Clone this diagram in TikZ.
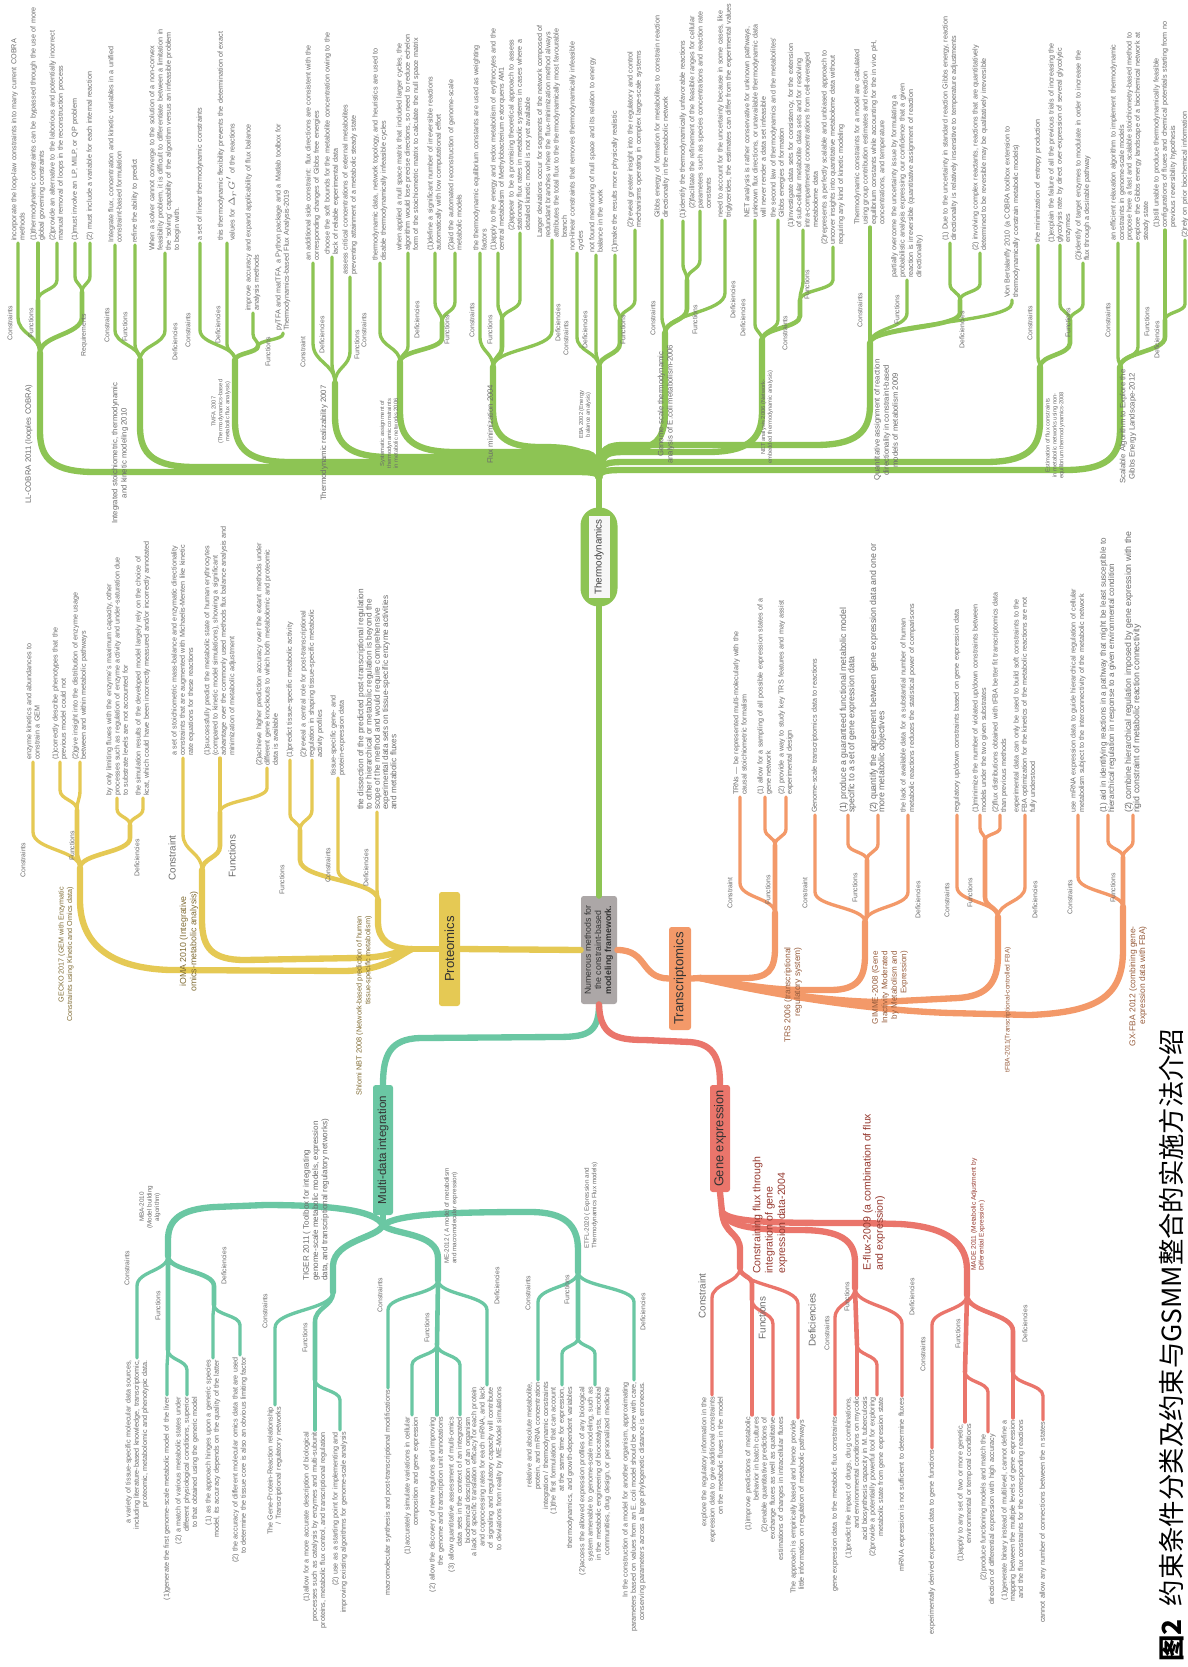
\documentclass[tikz,border=0pt]{standalone}
\usepackage{fontspec}
\setmainfont{Liberation Sans}
\newfontfamily\cjkfont{Noto Sans CJK SC}
\usepackage{tikz}
\usetikzlibrary{positioning,calc}
\hyphenpenalty=10000
\exhyphenpenalty=10000
\tolerance=10000
\definecolor{thgreen}{RGB}{141,196,84}
\definecolor{pryellow}{RGB}{229,201,84}
\definecolor{trorange}{RGB}{243,153,105}
\definecolor{mdteal}{RGB}{106,199,163}
\definecolor{gered}{RGB}{234,117,107}
\definecolor{coregray}{RGB}{172,167,167}
\definecolor{leafgray}{RGB}{108,108,108}
\definecolor{prtext}{RGB}{128,108,52}
\definecolor{trtext}{RGB}{152,94,62}
\definecolor{getext}{RGB}{150,58,48}
\tikzset{
  bup/.style={to path={.. controls ($(\tikztostart)+(0,-#1)$) and ($(\tikztostart -| \tikztotarget)+(0,-#1)$)
      .. ($(\tikztostart -| \tikztotarget)+(0,-2*#1)$) -- (\tikztotarget)}},
  bdn/.style={to path={.. controls ($(\tikztostart)+(0,#1)$) and ($(\tikztostart -| \tikztotarget)+(0,#1)$)
      .. ($(\tikztostart -| \tikztotarget)+(0,2*#1)$) -- (\tikztotarget)}},
  trunk/.style={line width=3.6pt, line cap=round},
  limb/.style={line width=2.6pt, line cap=round},
  twig/.style={line width=1.9pt, line cap=round},
  catbox/.style={inner sep=0pt, rounded corners=1.5pt, text=black!80},
  uleaf/.style={rotate=90, anchor=west, align=left, inner sep=1pt,
                font=\fontsize{4.1}{4.7}\selectfont, text=leafgray},
  dleaf/.style={uleaf, anchor=east, align=right},
  cat/.style={rotate=90, inner sep=0.5pt, font=\fontsize{3.9}{4.4}\selectfont, text=leafgray},
  bigcat/.style={cat, font=\fontsize{5.6}{6}\selectfont},
  meth/.style={rotate=90, inner sep=0.5pt, font=\fontsize{4.4}{5.2}\selectfont, text=leafgray},
  tinymeth/.style={meth, font=\fontsize{3.3}{3.9}\selectfont},
}

\begin{document}
\begin{tikzpicture}[x=0.02cm, y=-0.02cm]
\useasboundingbox (0,0) rectangle (1187,1667);
\fill[white] (0,0) rectangle (1187,1667);

% centre node and the five groups
\node[catbox, fill=coregray, minimum width=0.72cm, minimum height=2.16cm,
      font=\fontsize{5}{5.8}\selectfont] (core) at (599,950)
  {\rotatebox{90}{\begin{tabular}{@{}c@{}}Numerous methods for\\the constraint-based\\\textbf{modeling framework.}\end{tabular}}};
\node[fill=thgreen, rounded corners=0.36cm, minimum width=0.74cm, minimum height=1.98cm,
      inner sep=0pt] (thermo) at (599,557) {};
\node[fill=gray!6, minimum width=0.42cm, minimum height=1.64cm, inner sep=0pt,
      font=\fontsize{5.6}{6}\selectfont, text=black!75] (thermot) at (thermo.center)
  {\rotatebox{90}{Thermodynamics}};
\node[catbox, fill=pryellow, minimum width=0.42cm, minimum height=2.28cm,
      font=\fontsize{7.5}{8}\selectfont] (prot) at (449.5,949) {\rotatebox{90}{Proteomics}};
\node[catbox, fill=trorange, minimum width=0.44cm, minimum height=2.06cm,
      font=\fontsize{7.5}{8}\selectfont] (trans) at (680,978.5) {\rotatebox{90}{Transcriptomics}};
\node[catbox, fill=mdteal, minimum width=0.40cm, minimum height=2.6cm,
      font=\fontsize{6.6}{7}\selectfont] (mdi) at (383,1150) {\rotatebox{90}{Multi-data integration}};
\node[catbox, fill=gered, minimum width=0.40cm, minimum height=2.14cm,
      font=\fontsize{7.3}{8}\selectfont] (gene) at (720,1138.5) {\rotatebox{90}{Gene expression}};

% ---------------- thermodynamics (top) ----------------
\coordinate (ghub) at (599,478);
\foreach \nm/\x/\y in {g1s/40/353, g1b/38/300, g1c/82/292, g2s/140/360, g3s/235/360, g3b/258/346,
    g4s/335/383, g5s/400/362, g5b/442/322, g6s/493/367, g6b/502/320, g7s/599/367, g7b/620/320,
    g8s/665/333, g8b/687/280, g9s/762/340, g9b/800/300, g10s/870/343, g10b/960/300,
    g11s/1040/367, g11b/1070/320, g12s/1120/367, g12b/1165/320}
  \coordinate (\nm) at (\x,\y);

\draw[trunk, thgreen] (core.north) -- (thermo.south);
\draw[trunk, thgreen] (thermo.north) -- (ghub);
\draw[trunk, thgreen] (ghub) .. controls (599,472) and (590,472) .. (570,472) -- (95,472)
  .. controls (55,472) and (40,460) .. (40,432) -- (g1s);
\draw[trunk, thgreen] (ghub) .. controls (599,467) and (590,467) .. (570,467) -- (195,467)
  .. controls (155,467) and (140,455) .. (140,427) -- (g2s);
\draw[trunk, thgreen] (ghub) .. controls (599,462) and (590,462) .. (570,462) -- (290,462)
  .. controls (250,462) and (235,450) .. (235,422) -- (g3s);
\draw[trunk, thgreen] (ghub) .. controls (599,457) and (590,457) .. (570,457) -- (390,457)
  .. controls (350,457) and (335,445) .. (335,417) -- (g4s);
\draw[trunk, thgreen] (ghub) .. controls (599,452) and (590,452) .. (570,452) -- (455,452)
  .. controls (415,452) and (400,440) .. (400,412) -- (g5s);
\draw[trunk, thgreen] (ghub) .. controls (599,447) and (560,447) .. (540,447)
  .. controls (505,447) and (493,435) .. (493,410) -- (g6s);
\draw[trunk, thgreen] (ghub) -- (g7s);
\draw[trunk, thgreen] (ghub) .. controls (599,447) and (620,447) .. (640,447)
  .. controls (658,447) and (665,435) .. (665,410) -- (g8s);
\draw[trunk, thgreen] (ghub) .. controls (599,452) and (608,452) .. (628,452) -- (707,452)
  .. controls (747,452) and (762,440) .. (762,412) -- (g9s);
\draw[trunk, thgreen] (ghub) .. controls (599,445) and (608,445) .. (628,445) -- (815,445)
  .. controls (855,445) and (870,433) .. (870,405) -- (g10s);
\draw[trunk, thgreen] (ghub) .. controls (599,462) and (608,462) .. (628,462) -- (985,462)
  .. controls (1025,462) and (1040,450) .. (1040,422) -- (g11s);
\draw[trunk, thgreen] (ghub) .. controls (599,470) and (608,470) .. (628,470) -- (1065,470)
  .. controls (1105,470) and (1120,458) .. (1120,430) -- (g12s);
\draw[limb, thgreen] (g1s) to[bup=8] (g1b) (g1s) to[bup=18] (g1c) (g3s) to[bup=7] (g3b)
  (g5s) to[bup=12] (g5b) (g6s) to[bup=10] (g6b) (g7s) to[bup=12] (g7b) (g8s) to[bup=12] (g8b)
  (g9s) to[bup=12] (g9b) (g10s) to[bup=15] (g10b) (g11s) to[bup=12] (g11b) (g12s) to[bup=15] (g12b);

\foreach \nm/\pa/\hh/\x/\y/\w/\txt in {
  g1a/g1s/18/18/243/4.45/{incorporate the loop-law constraints into many current COBRA methods},
  g1f1/g1b/10/38/243/4.8/{(1)thermodynamic constraints can be bypassed through the use of more global governing constraints},
  g1f2/g1b/10/57/243/4.6/{(2)provide an alternative to the laborious and potentially incorrect manual removal of loops in the reconstruction process},
  g1r1/g1c/8/75/243/4.6/{(1)must involve an LP, MILP, or QP problem},
  g1r2/g1c/8/90/243/4.6/{(2) must include a variable for each internal reaction},
  g2c/g2s/15/115/245/4.2/{Integrate flux, concentration and kinetic variables in a unified constraint-based formulation},
  g2f/g2s/8/135/245/4.2/{refine the ability to predict},
  g2d/g2s/15/165/253/4.5/{When a solver cannot converge to the solution of a non-convex feasibility problem, it is difficult to differentiate between a limitation in the `solving' capability of the algorithm versus an infeasible problem to begin with.},
  g3c/g3s/15/200/243/4.4/{a set of linear thermodynamic constraints},
  g3d/g3s/8/227/243/4.4/{this thermodynamic flexibility prevents the determination of exact values for $\Delta_rG'$ of the reactions},
  g3f1/g3b/6/253/313/3.9/{improve accuracy and expand applicability of flux balance analysis methods},
  g3f2/g3b/6/283/333/4.6/{pyTFA and matTFA, a Python package and a Matlab toolbox for Thermodynamics-based Flux Analysis-2019},
  g4c/g4s/20/313/263/4.6/{an additional side constraint: flux directions are consistent with the corresponding changes of Gibbs free energies},
  g4d/g4s/10/332/257/4.5/{choose the soft bounds for the metabolite concentration owing to the lack of reliable experimental data},
  g4f/g4s/16/350/277/3.8/{assess critical concentrations of external metabolites preventing attainment of a metabolic steady state},
  g5c/g5s/15/380/263/4.7/{thermodynamic data, network topology, and heuristics are used to disable thermodynamically infeasible cycles},
  g5d/g5s/8/408/253/4.6/{when applied a null space matrix that included larger cycles, the algorithm would lose precise directions, so need to reduce echelon form of the stoichiometric matrix to calculate the null space matrix},
  g5f1/g5b/10/435/253/3.8/{(1)define a significant number of irreversible reactions automatically with low computational effort},
  g5f2/g5b/10/455/253/3.9/{(2)aid the automated reconstruction of genome-scale metabolic models},
  g6c/g6s/15/480/253/4.5/{the thermodynamic equilibrium constants are used as weighting factors},
  g6f1/g6b/8/498/253/4.5/{(1)apply to the energy and redox metabolism of erythrocytes and the central metabolism of Methylobacterium extorquens AM1},
  g6f2/g6b/10/520/233/4.2/{(2)appear to be a promising theoretical approach to assess stationary flux rates in metabolic systems in cases where a detailed kinetic model is not yet available},
  g6d/g6s/18/552/240/4.3/{Larger deviations occur for segments of the network composed of redundant branches where the flux-minimization method always attributes the total flux to the thermodynamically most favourable branch},
  g7c/g7s/15/577/253/4.5/{non-linear constraints that removes thermodynamically infeasible cycles},
  g7d/g7s/8/596/255/4.2/{not found mentioning of null space and its relation to energy balance in the work},
  g7f1/g7b/8/615/255/4.2/{(1)make the results more physically realistic},
  g7f2/g7b/10/635/230/3.8/{(2)reveal greater insight into the regulatory and control mechanisms operating in complex large-scale systems},
  g8c/g8s/8/662/220/4.3/{Gibbs energy of formation for metabolites to constrain reaction directionality in the metabolic network},
  g8f1/g8b/8/683/221/4.3/{(1)identify the thermodynamically unfavorable reactions},
  g8f2/g8b/10/700/211/4.0/{(2)facilitate the refinement of the feasible ranges for cellular parameters such as species concentrations and reaction rate constants},
  g8d/g8s/20/725/220/4.3/{need to account for the uncertainty because in some cases, like triglycerides, the estimates can differ from the experimental values},
  g9d/g9s/8/755/220/4.0/{NET analysis is rather conservative for unknown pathways, unknown flux directions, or unavailable thermodynamic data will never render a data set infeasible},
  g9c/g9s/10/778/220/3.8/{the second law of thermodynamics and the metabolites' Gibbs energies of formation},
  g9f1/g9b/10/803/230/4.2/{(1)investigate data sets for consistency, for the extension of sub-cellular metabolite data sets and for resolving intra-compartmental concentrations from cell-averaged metabolome data},
  g9f2/g9b/10/833/247/4.3/{(2)represents a perfectly scalable and unbiased approach to uncover insights into quantitative metabolome data without requiring any kind of kinetic modeling},
  g10c/g10s/5/870/227/3.9/{Thermodynamic constraints for a model are calculated using group contribution estimates and reaction equilibrium constants while accounting for the in vivo pH, concentrations, and temperature},
  g10f/g10s/15/907/280/4.1/{partially overcome the uncertainty issue by formulating a probabilistic analysis expressing our confidence that a given reaction is irreversible (quantitative assignment of reaction directionality)},
  g10d1/g10b/8/950/243/4.5/{(1) Due to the uncertainty in standard reaction Gibbs energy, reaction directionality is relatively insensitive to temperature adjustments},
  g10d2/g10b/8/980/253/4.5/{(2) involving complex reactants, reactions that are quantitatively determined to be reversible may be qualitatively irreversible},
  g10v/g10s/20/1012/300/3.9/{Von Bertalanffy 2010 (a COBRA toolbox extension to thermodynamically constrain metabolic models)},
  g11c/g11s/5/1038/245/4.4/{the minimization of entropy production},
  g11f1/g11b/8/1060/245/4.3/{(1)explain the failure of all the previous trials of increasing the glycolysis rate by direct over-expression of several glycolytic enzymes},
  g11f2/g11b/8/1083/263/4.4/{(2)identify of target enzymes to modulate in order to increase the flux through a desirable pathway},
  g12c/g12s/5/1118/243/4.4/{an efficient relaxation algorithm to implement thermodynamic constraints in genome-scale models},
  g12f/g12s/10/1138/243/4.6/{propose here a fast and scalable stoichiometry-based method to explore the Gibbs energy landscape of a biochemical network at steady state},
  g12d1/g12b/8/1165/230/4.3/{(1)still unable to produce thermodynamically feasible configurations of fluxes and chemical potentials starting from no previous reversibility hypothesis},
  g12d2/g12b/8/1185/240/4.5/{(2)rely on prior biochemical information}}{
  \node[uleaf, text width=\w cm] (\nm) at (\x,\y) {\txt};
  \draw[twig, thgreen] (\pa) to[bup=\hh] (\nm.west);
}

\foreach \x/\y/\txt [count=\i] in {10/323/Constraints, 31/323/Functions, 84/335/Requirements,
    107/325/Constraints, 125/327/Functions, 175/342/Deficiencies,
    188/330/Constraints, 218/325/Deficiencies, 268/352/Functions,
    303/352/Constraint, 322/335/Deficiencies, 357/345/Functions,
    364/330/Constraints, 417/320/Deficiencies, 447/330/Functions,
    472/320/Constraints, 490/330/Functions, 558/323/Deficiencies,
    566/338/Constraints, 585/330/Deficiencies, 623/330/Functions,
    653/318/Constraints, 695/320/Functions, 733/300/Deficiencies,
    743/318/Deficiencies, 785/333/Constraints, 807/285/Functions,
    860/310/Constraints, 897/310/Functions, 962/330/Deficiencies,
    1030/323/Constraints, 1068/323/Functions,
    1108/320/Constraints, 1147/322/Functions, 1157/340/Deficiencies}
  \node[cat] (gl\i) at (\x,\y) {\txt};

\node[meth, anchor=west] (g1m) at (29,505) {LL-COBRA 2011 (looples COBRA)};
\node[meth, anchor=west, align=center] (g2m) at (120,525)
  {Integrated stoichiometric, thermodynamic\\and kinetic modeling 2010};
\node[tinymeth, anchor=west, align=center] (g3m) at (221,445)
  {TMFA 2007\\(Thermodynamics-based\\metabolic flux analysis)};
\node[meth, anchor=west] (g4m) at (324,502) {Thermodynamic realizability 2007};
\node[tinymeth, anchor=west, align=center] (g5m) at (389,470)
  {Systematic assignment of\\thermodynamic constraints\\in metabolic networks 2006};
\node[meth, anchor=west] (g6m) at (490,465) {Flux minimization 2004};
\node[tinymeth, anchor=west, align=center] (g7m) at (585,440) {EBA 2002 (Energy\\balance analysis)};
\node[meth, anchor=west, align=center] (g8m) at (666,465)
  {Genome-scale thermodynamic\\analysis of E.coli metabolism-2006};
\node[tinymeth, anchor=west, align=center] (g9m) at (767,465)
  {NET analysis 2006 (Network-\\embedded thermodynamic analysis)};
\node[meth, anchor=west, align=center] (g10m) at (886,482)
  {Quantitative assignment of reaction\\directionality in constraint-based\\models of metabolism 2009};
\node[tinymeth, anchor=west, align=center] (g11m) at (1055,480)
  {Estimation of flux constraints\\in metabolic networks using non-\\equilibrium thermodynamics-2008};
\node[meth, anchor=west, align=center] (g12m) at (1128,485)
  {Scalable Algorithm to Explore the\\Gibbs Energy Landscape-2012};

% ---------------- proteomics (left) ----------------
\coordinate (yhub) at (412,949);
\foreach \nm/\x/\y in {y1s/80/868, y1b/77/810, y1c/130/825, y2s/202/870, y2b/220/812,
    y3s/378/900, y3b/300/830}
  \coordinate (\nm) at (\x,\y);
\draw[trunk, pryellow] (core.west) -- (prot.east);
\draw[trunk, pryellow] (prot.west) -- (yhub);
\draw[trunk, pryellow] (yhub) .. controls (390,949) and (378,940) .. (378,922) -- (y3s);
\draw[trunk, pryellow] (yhub) .. controls (395,952) and (385,958) .. (355,958) -- (245,960)
  .. controls (212,960) and (202,948) .. (202,920) -- (y2s);
\draw[trunk, pryellow] (yhub) .. controls (398,956) and (385,970) .. (345,971) -- (170,970)
  .. controls (105,968) and (80,940) .. (80,900) -- (y1s);
\draw[limb, pryellow] (y1s) to[bup=8] (y1b) (y1s) to[bup=15] (y1c) (y2s) to[bup=12] (y2b)
  (y3s) to[bup=20] (y3b);

\foreach \nm/\pa/\hh/\x/\y/\w/\txt in {
  y1c1/y1s/18/33/762/2.5/{enzyme kinetics and abundances to constrain a GEM},
  y1f1/y1b/10/60/762/2.8/{(1)correctly describe phenotypes that the previous model could not},
  y1f2/y1b/10/80/762/3.5/{(2)give insight into the distribution of enzyme usage between and within metabolic pathways},
  y1d1/y1c/8/117/798/4.8/{by only limiting fluxes with the enzyme's maximum capacity, other processes such as regulation of enzyme activity and under-saturation due to substrate levels are not accounted for},
  y1d2/y1c/8/143/798/5.1/{the simulation results of the developed model largely rely on the choice of kcat, which could have been incorrectly measured and/or incorrectly annotated},
  y2c/y2s/18/183/758/4.5/{a set of stoichiometric mass-balance and enzymatic directionality constraints that are augmented with Michaelis-Menten like kinetic rate equations for these reactions},
  y2f1/y2b/8/220/758/4.6/{(1)successfully predict the metabolic state of human erythrocytes (compared to kinetic model simulations), showing a significant advantage over the commonly used methods flux balance analysis and minimization of metabolic adjustment},
  y2f2/y2b/12/267/768/4.6/{(2)achieve higher prediction accuracy over the extant methods under different gene knockouts to which both metabolomic and proteomic data is available},
  y3f1/y3b/8/290/760/3.2/{(1)predict tissue-specific metabolic activity},
  y3f2/y3b/10/312/760/3.3/{(2)reveal a central role for post-transcriptional regulation in shaping tissue-specific metabolic activity profiles},
  y3c/y3s/15/338/778/2.4/{tissue-specific gene- and protein-expression data},
  y3d/y3s/5/377/812/4.6/{\fontsize{4.7}{5.7}\selectfont the dissection of the predicted post-transcriptional regulation to other hierarchical or metabolic regulation is beyond the scope of the method and would require comprehensive experimental data sets on tissue-specific enzyme activities and metabolic fluxes}}{
  \node[uleaf, text width=\w cm] (\nm) at (\x,\y) {\txt};
  \draw[twig, pryellow] (\pa) to[bup=\hh] (\nm.west);
}
\foreach \x/\y/\txt [count=\i] in {23/860/Constraints, 72/846/Functions, 137/858/Deficiencies,
    282/880/Functions, 328/865/Constraints, 366/868/Deficiencies}
  \node[cat] (yl\i) at (\x,\y) {\txt};
\node[bigcat] (yl7) at (172,858) {Constraint};
\node[bigcat] (yl8) at (232,856) {Functions};
\node[meth, text=prtext, anchor=east, align=right, font=\fontsize{4.1}{4.8}\selectfont] (y1m) at (66,886)
  {GECKO 2017 (GEM with Enzymatic\\Constraints using Kinetic and Omics data)};
\node[meth, text=prtext, anchor=east, align=center, font=\fontsize{5}{5.8}\selectfont] (y2m) at (189,890)
  {iOMA 2010 (Integrative\\omics-metabolic analysis)};
\node[meth, text=prtext, anchor=east, align=right, font=\fontsize{4.2}{5}\selectfont] (y3m) at (364,915)
  {Shlomi NBT 2008 (Network-based prediction of human\\tissue-specific metabolism)};

% ---------------- transcriptomics (right) ----------------
\coordinate (ohub) at (700,978);
\foreach \nm/\x/\y in {o1s/775/913, o1b/775/845, o2s/865/922, o2b/867/860, o3s/998/917,
    o3b/985/840, o4s/1123/907, o4b/1123/857}
  \coordinate (\nm) at (\x,\y);
\draw[trunk, trorange] (core.east) .. controls (648,950) and (640,978) .. (trans.west);
\draw[trunk, trorange] (trans.east) -- (ohub);
\draw[trunk, trorange] (ohub) -- (745,978) .. controls (768,978) and (775,970) .. (775,948) -- (o1s);
\draw[trunk, trorange] (ohub) .. controls (730,982) and (765,990) .. (805,990) -- (830,990)
  .. controls (858,990) and (865,978) .. (865,955) -- (o2s);
\draw[trunk, trorange] (ohub) .. controls (740,986) and (810,1001) .. (880,1002) -- (958,998)
  .. controls (988,996) and (998,982) .. (998,955) -- (o3s);
\draw[trunk, trorange] (ohub) .. controls (760,992) and (860,1010) .. (950,1013) -- (1030,1015)
  .. controls (1100,1012) and (1123,995) .. (1123,950) -- (o4s);
\draw[limb, trorange] (o1s) -- (o1b) (o2s) to[bup=4] (o2b) (o3s) to[bup=10] (o3b) (o4s) -- (o4b);

\foreach \nm/\pa/\hh/\x/\y/\w/\txt in {
  o1c/o1s/15/740/797/3.6/{TRNs — be represented multi-molecularly with the causal stoichiometric formalism},
  o1f1/o1b/8/765/797/4.1/{(1) allow for a sampling of all possible expression states of a gene network},
  o1f2/o1b/8/786/797/4.2/{(2) provide a way to study key TRS features and may assist experimental design},
  o2c/o2s/15/815/815/3.6/{Genome-scale transcriptomics data to reactions},
  o2f1/o2b/8/848/815/4.5/{\fontsize{5}{5.8}\selectfont (1) produce a guaranteed functional metabolic model specific to a set of gene expression data},
  o2f2/o2b/8/878/815/5.7/{\fontsize{5}{5.8}\selectfont (2) quantify the agreement between gene expression data and one or more metabolic objectives},
  o2d/o2s/15/908/815/4.5/{the lack of available data for a substantial number of human metabolic reactions reduces the statistical power of comparisons},
  o3c/o3s/15/957/815/4.4/{regulatory up/down constraints based on gene expression data},
  o3f1/o3b/6/980/815/4.6/{(1)minimize the number of violated up/down constraints between models under the two given substrates},
  o3f2/o3b/6/1000/815/4.6/{(2)flux distributions obtained with tFBA better fit transcriptomics data than previous methods},
  o3d/o3s/15/1025/815/4.6/{experimental data can only be used to build soft constraints to the FBA optimization for the kinetics of the metabolic reactions are not fully understood},
  o4c/o4s/15/1078/815/4.7/{use mRNA expression data to guide hierarchical regulation of cellular metabolism subject to the interconnectivity of the metabolic network},
  o4f1/o4b/8/1108/815/5.6/{\fontsize{4.6}{5.4}\selectfont (1) aid in identifying reactions in a pathway that might be least susceptible to hierarchical regulation in response to a given environmental condition},
  o4f2/o4b/8/1133/815/6.0/{\fontsize{5}{5.8}\selectfont (2) combine hierarchical regulation imposed by gene expression with the rigid constraint of metabolic reaction connectivity}}{
  \node[uleaf, text width=\w cm] (\nm) at (\x,\y) {\txt};
  \draw[twig, trorange] (\pa) to[bup=\hh] (\nm.west);
}
\foreach \x/\y/\txt [count=\i] in {730/893/Constraint, 768/890/Functions, 805/893/Constraint,
    855/888/Functions, 918/900/Deficiencies, 947/900/Constraints, 970/893/Functions,
    1035/900/Deficiencies, 1070/897/Constraints, 1113/888/Functions}
  \node[cat] (ol\i) at (\x,\y) {\txt};
\node[meth, text=trtext, anchor=east, align=right, font=\fontsize{4.8}{5.6}\selectfont] (o1m) at (793,946)
  {TRS 2006 (transcriptional\\regulatory system)};
\node[meth, text=trtext, anchor=east, align=right, font=\fontsize{4.6}{5.4}\selectfont] (o2m) at (890,950)
  {GIMME-2008 (Gene\\Inactivity Moderated\\by Metabolism and\\Expression)};
\node[meth, text=trtext, anchor=east, font=\fontsize{3.8}{4.4}\selectfont] (o3m) at (1008,946)
  {tFBA-2011(Transcriptional-controlled FBA)};
\node[meth, text=trtext, anchor=east, align=right, font=\fontsize{4.8}{5.6}\selectfont] (o4m) at (1138,925)
  {GX-FBA 2012 (combining gene-\\expression data with FBA)};

% ---------------- multi-data integration (bottom left) ----------------
\coordinate (thub) at (383,1225);
\foreach \nm/\x/\y in {t1s/168/1256, t1b/168/1350, t1c/214/1305, t2s/333/1292, t2b/315/1380,
    t3s/438/1280, t3b/437/1345, t4s/578/1272, t4b/578/1338}
  \coordinate (\nm) at (\x,\y);
\draw[trunk, mdteal] (core.south) .. controls (599,1035) and (585,1037) .. (555,1037) -- (420,1038)
  .. controls (390,1039) and (383,1055) .. (mdi.north);
\draw[trunk, mdteal] (mdi.south) -- (thub);
\draw[trunk, mdteal] (thub) .. controls (375,1210) and (330,1205) .. (265,1205) -- (215,1207)
  .. controls (180,1209) and (168,1220) .. (168,1240) -- (t1s);
\draw[trunk, mdteal] (thub) .. controls (378,1238) and (335,1240) .. (333,1265) -- (t2s);
\draw[trunk, mdteal] (thub) .. controls (392,1235) and (438,1232) .. (438,1258) -- (t3s);
\draw[trunk, mdteal] (thub) .. controls (398,1214) and (450,1212) .. (530,1212)
  .. controls (565,1212) and (578,1225) .. (578,1250) -- (t4s);
\draw[limb, mdteal] (t1s) -- (t1b) (t1s) to[bdn=15] (t1c) (t2s) to[bdn=15] (t2b) (t3s) -- (t3b)
  (t4s) -- (t4b);

\foreach \nm/\pa/\hh/\x/\y/\w/\txt in {
  t1c1/t1s/15/137/1358/4.1/{a variety of tissue-specific molecular data sources, including literature-based knowledge, transcriptomic, proteomic, metabolomic and phenotypic data.},
  t1f1/t1b/8/167/1395/4.3/{(1)generate the first genome-scale metabolic model of the liver},
  t1f2/t1b/10/187/1395/4.3/{(2) a match of various metabolic states under different physiological conditions, superior to that obtained using the generic model},
  t1d1/t1c/5/213/1358/4.2/{(1) as the approach hinges upon a generic species model, its accuracy depends on the quality of the latter},
  t1d2/t1c/10/240/1355/4.2/{(2) the accuracy of different molecular omics data that are used to determine the tissue core is also an obvious limiting factor},
  t2c/t2s/18/275/1405/3.8/{The Gene-Protein-Reaction relationship / Transcriptional regulatory networks},
  t2f1/t2b/5/315/1430/4.4/{(1)allow for a more accurate description of biological processes such as catalysis by enzymes and multi-subunit proteins, metabolic flux control, and transcriptional regulation},
  t2f2/t2b/10/340/1430/4.4/{(2) use as a starting point for implementing and improving existing algorithms for genome-scale analysis},
  t3c/t3s/15/388/1388/4.4/{macromolecular synthesis and post-transcriptional modifications},
  t3f1/t3b/10/412/1415/3.8/{(1)accurately simulate variations in cellular composition and gene expression},
  t3f2/t3b/5/437/1415/3.8/{(2) allow the discovery of new regulons and improving the genome and transcription unit annotations},
  t3f3/t3b/10/460/1415/3.8/{(3) allow quantitative assessment of multi-omics data sets in the context of an integrated biochemical description of an organism},
  t3d/t3s/15/487/1385/4.4/{a lack of specific translation efficacy for each protein and coprocessing rates for each mRNA, and lack of signaling and regulatory capacity will contribute to deviations from reality by ME-Model simulations},
  t4c/t4s/15/538/1380/3.3/{relative and absolute metabolite, protein, and mRNA concentration integration / thermodynamic constraints},
  t4f1/t4b/8/562/1385/3.3/{(1)the first formulation that can account at the same time for expression, thermodynamics, and growth-dependent variables},
  t4f2/t4b/8/595/1385/4.3/{(2)access the allowed expression profiles of any biological system amenable to genome-scale modeling, such as in the metabolic engineering of biocatalysts, microbial communities, drug design, or personalized medicine},
  t4d/t4s/15/634/1380/5.5/{In the construction of a model for another organism, approximating parameters based on values from an E. coli model should be done with care, conserving parameters across a large phylogenetic distance is erroneous.}}{
  \node[dleaf, text width=\w cm] (\nm) at (\x,\y) {\txt};
  \draw[twig, mdteal] (\pa) to[bdn=\hh] (\nm.east);
}
\foreach \x/\y/\txt [count=\i] in {127/1268/Constraints, 158/1306/Functions, 224/1266/Deficiencies,
    265/1311/Constraints, 305/1338/Functions, 380/1295/Constraints, 427/1328/Functions,
    497/1286/Deficiencies, 528/1293/Constraints, 567/1290/Functions, 643/1312/Deficiencies}
  \node[cat] (tl\i) at (\x,\y) {\txt};
\node[tinymeth, align=center, font=\fontsize{3.6}{4.3}\selectfont] (t1m) at (150,1207)
  {MBA-2010\\(Model building\\algorithm)};
\node[meth, anchor=west, align=left, font=\fontsize{4.6}{5.3}\selectfont] (t2m) at (316,1282)
  {TIGER 2011 ( Toolbox for integrating\\genome-scale metabolic models, expression\\data, and transcriptional regulatory networks)};
\node[meth, anchor=west, align=left, font=\fontsize{3.6}{4.3}\selectfont] (t3m) at (451,1265)
  {ME-2012 ( A model of metabolism\\and macromolecular expression)};
\node[meth, anchor=west, align=left, font=\fontsize{3.6}{4.3}\selectfont] (t4m) at (591,1250)
  {ETFL-2020 ( Expression and\\Thermodynamics Flux models)};

% ---------------- gene expression (bottom right) ----------------
\coordinate (rhub) at (722,1212);
\foreach \nm/\x/\y in {r1s/740/1268, r1b/752/1300, r2s/855/1288, r2b/857/1345, r3s/967/1295,
    r3b/965/1372, r3e/1013/1372}
  \coordinate (\nm) at (\x,\y);
\draw[trunk, gered] (core.south) .. controls (600,1035) and (615,1040) .. (645,1040) -- (690,1042)
  .. controls (715,1044) and (720,1060) .. (gene.north);
\draw[trunk, gered] (gene.south) -- (rhub);
\draw[trunk, gered] (rhub) .. controls (724,1235) and (740,1232) .. (740,1250) -- (r1s);
\draw[trunk, gered] (rhub) .. controls (728,1228) and (760,1230) .. (800,1230)
  .. controls (840,1230) and (855,1240) .. (855,1262) -- (r2s);
\draw[trunk, gered] (rhub) .. controls (730,1223) and (780,1223) .. (860,1223) -- (900,1224)
  .. controls (950,1227) and (967,1245) .. (967,1270) -- (r3s);
\draw[limb, gered] (r1s) to[bdn=8] (r1b) (r2s) -- (r2b) (r3s) -- (r3b) (r3s) to[bdn=18] (r3e);

\foreach \nm/\pa/\hh/\x/\y/\w/\txt in {
  r1c/r1s/15/712/1395/3.7/{explore the regulatory information in the expression data to give additional constraints on the metabolic fluxes in the model},
  r1f1/r1b/8/752/1415/3.6/{(1)improve predictions of metabolic behavior in batch cultures},
  r1f2/r1b/12/773/1415/3.6/{(2)enable quantitative predictions of exchange fluxes as well as qualitative estimations of changes in intracellular fluxes},
  r1d/r1s/18/798/1418/4.4/{The approach is empirically based and hence provide little information on regulation of metabolic pathways},
  r2c/r2s/15/835/1415/4.1/{gene expression data to the metabolic flux constraints},
  r2f1/r2b/5/857/1395/4.1/{(1)predict the impact of drugs, drug combinations, and environmental conditions on mycolic acid biosynthesis capacity in M. tuberculosis},
  r2f2/r2b/10/877/1395/3.6/{(2)provide a potentially powerful tool for exploring metabolic state from gene expression state},
  r2d/r2s/18/902/1396/3.6/{mRNA expression is not sufficient to determine fluxes},
  r3c/r3s/15/932/1448/3.9/{experimentally derived expression data to gene functions},
  r3f1/r3b/5/965/1422/3.8/{(1)apply to any set of two or more genetic, environmental or temporal conditions},
  r3f2/r3b/10/988/1432/3.6/{(2)produce functioning models and match the direction of differential expression with high accuracy},
  r3d1/r3e/5/1013/1418/3.9/{(1)generate binary instead of multilevel, cannot define a mapping between the multiple levels of gene expression and the flux constraints for the corresponding reactions},
  r3d2/r3e/12/1043/1420/4.1/{cannot allow any number of connections between the n states}}{
  \node[dleaf, text width=\w cm] (\nm) at (\x,\y) {\txt};
  \draw[twig, gered] (\pa) to[bdn=\hh] (\nm.east);
}
\node[bigcat] (rl1) at (702,1296) {Constraint};
\node[bigcat] (rl2) at (762,1318) {Functions};
\node[bigcat] (rl3) at (812,1320) {Deficiencies};
\foreach \x/\y/\txt [count=\i from 4] in {827/1333/Constraints, 847/1297/Functions, 912/1297/Deficiencies,
    923/1354/Constraints, 958/1334/Functions, 1025/1324/Deficiencies}
  \node[cat] (rl\i) at (\x,\y) {\txt};
\node[meth, text=getext, anchor=west, align=left, font=\fontsize{6}{7}\selectfont] (r1m) at (770,1275)
  {Constraining flux through\\integration of gene\\expression data-2004};
\node[meth, text=getext, anchor=west, align=left, font=\fontsize{6}{7}\selectfont] (r2m) at (874,1272)
  {E-flux-2009 (a combination of flux\\and expression)};
\node[meth, text=getext, anchor=west, align=left, font=\fontsize{3.8}{4.5}\selectfont] (r3m) at (978,1272)
  {MADE 2011 (Metabolic Adjustment by\\Differential Expression )};

% caption, set along the right edge
\node[rotate=90, anchor=west, inner sep=0pt, font=\cjkfont\fontsize{15}{15}\selectfont] (cap) at (1172,1662)
  {\textbf{图2}\hspace{0.5em}约束条件分类及约束与GSMM整合的实施方法介绍};
\end{tikzpicture}
\end{document}
